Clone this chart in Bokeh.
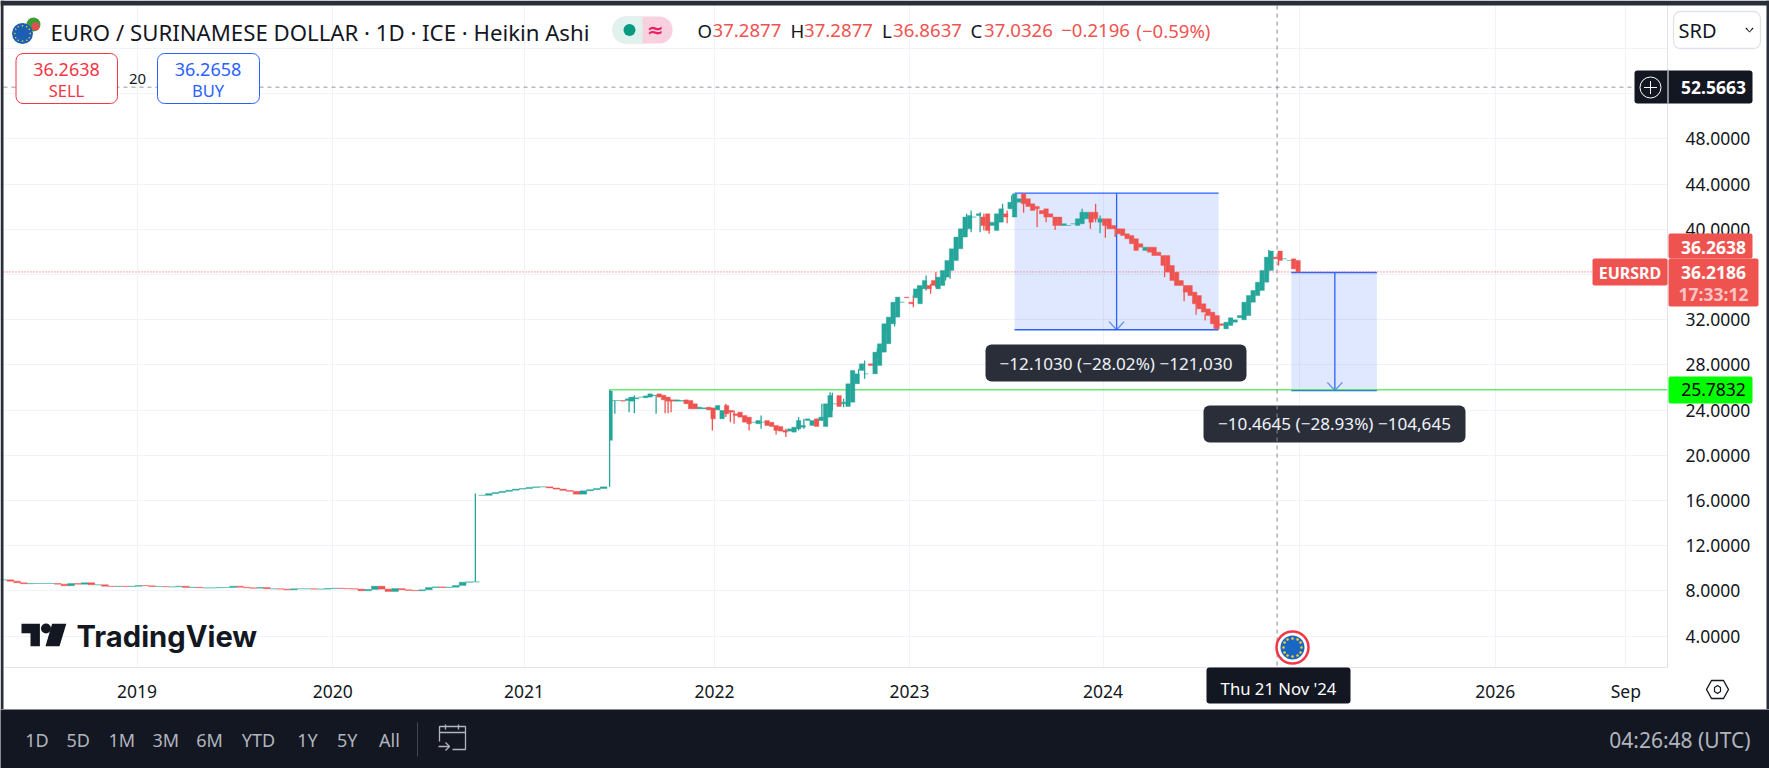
from bokeh.plotting import figure
from bokeh.layouts import column
from bokeh.models import (ColumnDataSource, Range1d, LinearAxis, FixedTicker, Label, BoxAnnotation,
                          PolyAnnotation, Grid)
from bokeh.core.properties import value
from bokeh.embed import file_html
from bokeh.resources import INLINE

# ---------------- data ----------------
price_ticks = [4, 8, 12, 16, 20, 24, 28, 32, 36, 40, 44, 48, 52, 56]
time_tick_bars = [0, 261, 516, 770, 1030, 1288, 1550, 1811, 1985]
time_tick_labels = ["2019", "2020", "2021", "2022", "2023", "2024", "", "2026", "Sep"]

flat_start, flat_step = -178, 9
flat_closes = [8.97,8.85,8.71,8.62,8.65,8.65,8.65,8.65,8.59,8.44,
               8.65,8.59,8.71,8.53,8.53,8.41,8.38,8.41,8.38,8.41,
               8.47,8.44,8.38,8.38,8.35,8.35,8.41,8.29,8.32,8.26,
               8.26,8.26,8.29,8.29,8.41,8.32,8.26,8.23,8.29,8.18,
               8.18,8.15,8.09,8.18,8.18,8.18,8.15,8.15,8.2,8.23,
               8.2,8.18,8.15,8.0,8.12,8.41,8.15,7.94,8.2,8.09,
               8.03,8.0,8.09,8.29,8.35,8.29,8.32,8.47,8.76,8.79,8.79]

step2_start, step2_step = 460, 9
step2_closes = [16.45,16.6,16.7,16.8,16.9,17.0,17.05,17.15,17.2,17.2,
                17.1,17.0,16.88,16.8,16.55,16.85,16.95,17.05,17.2]

main_start, main_step = 636, 6
main_closes = [24.84,24.84,24.78,24.99,25.14,25.08,25.14,25.25,25.43,25.31,
               25.14,24.9,24.78,24.78,24.9,24.84,24.55,24.10,24.10,24.25,
               24.19,24.01,23.22,24.4,23.96,23.66,23.81,23.51,23.37,22.92,
               22.78,22.92,23.07,22.92,22.63,22.54,22.19,22.13,22.04,22.33,
               22.48,23.07,22.63,23.22,23.07,22.54,23.37,24.55,25.28,24.55,
               24.31,24.69,26.32,27.5,27.2,28.09,27.2,27.94,
               29.12,29.86,31.63,32.22,33.54,33.99,33.54,33.93,33.4,34.72,
               35.02,35.46,34.72,35.02,35.76,36.35,37.23,38.26,39.3,40.03,
               41.07,41.21,41.07,41.36,40.33,39.89,40.62,41.36,41.8,41.07,
               42.39,43.13,
               42.69,42.25,42.01,41.66,41.8,41.36,41.07,41.07,40.33,40.33,
               40.48,40.33,40.48,40.92,41.51,41.51,40.62,40.92,40.92,40.33,
               40.03,40.03,39.59,39.44,39.15,38.71,38.12,38.41,38.41,37.97,
               37.67,37.67,36.79,36.2,35.46,35.02,35.02,34.43,34.13,33.4,
               32.95,32.66,32.36,31.63,31.18,31.48,31.77,32.16,31.98,32.36,
               33.54,34.13,34.58,35.31,36.35,37.53,38.06,37.38,37.23,37.38,
               37.23,36.49,36.2186]

wick_bars = [637,656,663,692,704,708,712,767,785,791,796,816,832,852,865,882,889,913,927,942,
             924,962,970,987,1000,1010,1035,1041,1052,1058,1065,1078,1084,1106,1112,1124,1129,1136,1154,1160,1166,
             1182,1200,1212,1224,1260,1271,1278,1284,1291,1304,1370,1396,1412,1424,1436,1509,1522]
wick_lows = [23.66,23.81,23.72,23.66,23.72,23.72,23.81,22.19,23.37,22.92,22.78,22.19,22.33,21.83,21.6,22.19,22.33,23.07,23.96,24.25,
             24.84,26.32,26.76,28.68,30.89,31.39,33.1,34.28,34.58,34.28,34.87,35.46,35.61,39.74,39.74,39.74,39.89,39.59,41.21,40.53,41.8,
             41.45,40.18,40.62,39.94,40.48,40.03,40.62,39.65,39.24,39.3,35.76,33.63,32.42,31.92,31.18,36.93,36.79]
wick_highs = [24.84,25.14,25.28,25.2,24.9,24.9,24.9,24.1,24.55,23.96,23.96,23.22,23.51,22.48,22.33,23.37,23.22,24.55,25.52,24.99,
              25.58,27.64,28.38,29.41,31.92,32.66,34.13,35.02,35.9,35.17,36.2,36.64,37.38,41.36,41.66,41.51,41.36,40.92,42.25,41.66,42.98,
              42.69,41.95,41.36,40.77,41.8,41.21,42.25,41.21,40.62,40.18,36.93,34.87,33.69,32.51,32.07,38.17,37.67]

jump_bars = [451, 630, 632]
jump_lows = [8.8, 17.2, 21.3]
jump_highs = [16.6, 25.8, 25.7]

last_price, target_price, cross_price = 36.2186, 25.7832, 52.5663
measure_bars = [[1170, 1442, 1306], [1539, 1653, 1597]]
measure_prices = [[43.2, 31.1], [36.17, 25.72]]
cross_bar = 1520
target_start_bar = 630

TEAL, RED = "#26a69a", "#ef5350"
DARK, INK = "#131722", "#131722"
EDGE = "#2a2e39"
GRID = "#f0f3fa"
BLUE = "#2962ff"
FONT = "Noto Sans"

# ---------------- geometry helpers: reference-pixel positions ----------------
W, H1, H2 = 1769, 709, 59
FX0, FX1, FY0, FY1 = 3, 1667, 5, 667
def bar_at(px): return (px - 136.6) / 0.75
def price_at(py): return 48 - (py - 138.3) / 11.3

# The frame fills the whole canvas; both axes are pinned at the pane's edges.
p = figure(width=W, height=H1, output_backend="svg", toolbar_location=None,
           x_range=Range1d(bar_at(0), bar_at(W)), y_range=Range1d(price_at(H1), price_at(0)),
           x_axis_location=None, y_axis_location=None, min_border=0,
           background_fill_color="white", border_fill_color="white", outline_line_color=None)

xaxis = LinearAxis(ticker=FixedTicker(ticks=time_tick_bars), fixed_location=price_at(FY1),
                   bounds=(bar_at(FX0), bar_at(FX1)),
                   major_label_overrides={b: l for b, l in zip(time_tick_bars, time_tick_labels)})
yaxis = LinearAxis(ticker=FixedTicker(ticks=price_ticks), fixed_location=bar_at(FX1),
                   bounds=(price_at(FY1), price_at(FY0)),
                   major_label_overrides={t: ("" if t in (36, 52, 56) else f"{t:.4f}") for t in price_ticks})
for ax in (xaxis, yaxis):
    ax.axis_line_color = "#e0e3eb"
    ax.major_tick_line_color = None
    ax.minor_tick_line_color = None
    ax.major_label_text_color = INK
    ax.major_label_text_font = FONT
xaxis.major_label_text_font_size = "17.5px"
yaxis.major_label_text_font_size = "17.5px"
xaxis.major_label_standoff = 5
yaxis.major_label_standoff = 12
p.add_layout(xaxis, "below")
p.add_layout(yaxis, "right")
p.xgrid.visible = False
p.ygrid.visible = False
p.add_layout(Grid(dimension=0, ticker=FixedTicker(ticks=time_tick_bars), grid_line_color=GRID))
p.add_layout(Grid(dimension=1, ticker=FixedTicker(ticks=price_ticks), grid_line_color=GRID))

# hide the grid outside the price pane
p.quad(left=[bar_at(FX1), bar_at(0)], right=[bar_at(W), bar_at(W)], top=[price_at(0), price_at(FY1)],
       bottom=[price_at(H1), price_at(H1)], fill_color="white", line_color=None)

# ---------------- drawings under the candles ----------------
for (b0, b1, bm), (top, bot) in zip(measure_bars, measure_prices):
    p.quad(left=b0, right=b1, top=top, bottom=bot, fill_color=BLUE, fill_alpha=0.15, line_color=None)
    p.segment([b0, b0, bm], [top, bot, top], [b1, b1, bm], [top, bot, bot], line_color=BLUE, line_width=1.3)
    p.segment([bm - 10, bm + 10], [bot + 0.72, bot + 0.72], [bm, bm], [bot, bot], line_color=BLUE, line_alpha=0.7, line_width=1.3)

p.segment(target_start_bar, target_price, bar_at(FX1), target_price, line_color="#1fe01f", line_width=1)
p.segment(bar_at(FX0), last_price, bar_at(FX1), last_price, line_color=RED, line_dash="1 2", line_width=1)
p.segment(bar_at(FX0), cross_price, bar_at(FX1), cross_price, line_color="#9598a1", line_dash="4 4", line_width=1)

# ---------------- candles: Heikin Ashi bodies span the last two closes ----------------
def candles(start, step, closes, lag):
    xs = [start + step * i for i in range(len(closes))]
    opens = [closes[max(i - lag, 0)] for i in range(len(closes))]
    return xs, opens

cx, co, cc, cw = [], [], [], []
for start, step, closes, width, lag in ((flat_start, flat_step, flat_closes, 9, 1),
                                        (step2_start, step2_step, step2_closes, 9, 1),
                                        (main_start, main_step, main_closes, 6, 2)):
    xs, opens = candles(start, step, closes, lag)
    cx += xs; co += opens; cc += closes; cw += [width] * len(xs)
ccol = [TEAL if c >= o else RED for o, c in zip(co, cc)]

def nearest_colour(b):
    i = min(range(len(cx)), key=lambda k: abs(cx[k] - b))
    return ccol[i]

p.segment(wick_bars, wick_lows, wick_bars, wick_highs,
          line_color=[nearest_colour(b) for b in wick_bars], line_width=1.3)
p.segment(jump_bars, jump_lows, jump_bars, jump_highs, line_color=TEAL, line_width=[1.3, 1.3, 3])
src = ColumnDataSource(dict(x=cx, top=[max(a, b) for a, b in zip(co, cc)],
                            bottom=[min(a, b) for a, b in zip(co, cc)], w=cw, color=ccol))
p.vbar(x="x", top="top", bottom="bottom", width="w", source=src, fill_color="color", line_color="color", line_width=0.4)

# ---------------- chrome helpers (canvas px = reference px) ----------------
def box(x0, y0, x1, y1, fill, line=None, radius=0, lw=1):
    p.add_layout(BoxAnnotation(left=x0, right=x1, top=y0, bottom=y1,
                               left_units="canvas", right_units="canvas", top_units="canvas", bottom_units="canvas",
                               fill_color=fill, fill_alpha=1, line_color=line, line_alpha=1, line_width=lw,
                               border_radius=radius, level="annotation", editable=False))

def txt(x, y, s, size=15.5, color=INK, align="center", font=FONT, style="normal"):
    p.add_layout(Label(x=x, y=y, x_units="canvas", y_units="canvas", text=s,
                       text_font=font, text_font_size=f"{size}px", text_color=color, text_align=align,
                       text_baseline="middle", text_font_style=style, level="annotation"))

def poly(xs, ys, fill=None, line=None, lw=1.3):
    p.add_layout(PolyAnnotation(xs=list(xs), ys=list(ys), xs_units="canvas", ys_units="canvas",
                                fill_color=fill, fill_alpha=1 if fill else 0, line_color=line, line_alpha=1, line_width=lw,
                                level="annotation", editable=False))

# outer edge of the window
box(0, 0, W, FY0, EDGE)
box(0, 0, FX0, H1, EDGE)
box(1766, 0, W, H1, EDGE)

# header
txt(50, 32, "EURO / SURINAMESE DOLLAR · 1D · ICE · Heikin Ashi", size=22.2, align="left")
p.scatter([bar_at(33)], [price_at(24)], size=14, fill_color="#3f9c35", line_color=None)
p.scatter([bar_at(35)], [price_at(26)], size=8, fill_color="#e05050", line_color=None)
p.scatter([bar_at(22)], [price_at(33)], size=21, fill_color="#1a5fb4", line_color=None)
box(612, 16, 672, 43, "#f8d0de", radius=13)
box(612, 16, 642, 43, "#dff2ee", radius=13)
box(632, 16, 642, 43, "#dff2ee")
p.scatter([bar_at(629)], [price_at(29.5)], size=12, fill_color="#089981", line_color=None, level="overlay")
txt(655, 29, "≈", size=20, color="#e91e63", font="DejaVu Sans", style="bold")
for x, s, c in ((697, "O", INK), (712, "37.2877", RED), (790, "H", INK), (803.6, "37.2877", RED),
                (881.5, "L", INK), (892.6, "36.8637", RED), (970, "C", INK), (983.5, "37.0326", RED),
                (1060.7, "−0.2196", RED), (1135.8, "(−0.59%)", RED)):
    txt(x, 30, s, size=18.6, color=c, align="left")

# sell / buy
box(15.5, 53, 117, 103, "white", "#f23645", 7)
txt(66, 69, "36.2638", size=18, color="#f23645")
txt(66, 90, "SELL", size=16.5, color="#f23645")
txt(137, 78, "20", size=15)
box(157, 53, 259, 103, "white", BLUE, 7)
txt(207.5, 69, "36.2658", size=18, color=BLUE)
txt(207.5, 90, "BUY", size=16.5, color=BLUE)

# selector
box(1673, 11, 1760, 48, "white", "#e0e3eb", 7, 1.3)
txt(1678, 30, "SRD", size=20, align="left")
poly([1745, 1749, 1753, 1752, 1749, 1746], [28, 32, 28, 27, 31, 27], fill=INK)

# measure labels
box(985, 344, 1246, 381, EDGE, None, 6)
txt(1115.5, 363, "−12.1030 (−28.02%) −121,030", size=17.1, color="#f0f3fa")
box(1203, 405, 1465, 442, EDGE, None, 6)
txt(1334, 423, "−10.4645 (−28.93%) −104,645", size=17.1, color="#f0f3fa")

# crosshair vertical (on top of the labels)
p.segment(cross_bar, price_at(FY0), cross_bar, price_at(FY1), line_color="#868993", line_dash="4 4", line_width=1, level="overlay")

# price tags
box(1634, 70, 1752, 103, DARK, None, 3)
poly([1667, 1668, 1668, 1667], [70, 70, 103, 103], fill="white")
txt(1713, 87, "52.5663", size=17.5, color="white", style="bold")
p.scatter([bar_at(1650)], [price_at(87)], size=21, fill_color=None, line_color="white", line_width=1, level="overlay")
p.scatter([bar_at(1650)], [price_at(87)], marker="cross", size=13, line_color="white", line_width=1, level="overlay")
box(1668, 233, 1752, 258, RED, None, 2)
txt(1713, 247, "36.2638", size=17.5, color="white", style="bold")
box(1668, 258, 1758, 306, RED, None, 2)
txt(1713, 272, "36.2186", size=17.5, color="white", style="bold")
txt(1713, 293, "17:33:12", size=17.5, color="#fbc5c5", style="bold")
box(1592, 258, 1667, 285, RED, None, 2)
txt(1629.5, 272, "EURSRD", size=16, color="white", style="bold")
box(1668, 376, 1752, 403, "#00ff00", None, 2)
txt(1713, 389, "25.7832", size=17.5, color="black")

# time tag
box(1206, 667, 1350, 703, DARK, None, 3)
txt(1278, 688, "Thu 21 Nov '24", size=16.7, color="white")
poly([1706, 1711, 1723, 1728, 1723, 1711], [689, 680, 680, 689, 698, 698], fill=None, line=INK, lw=1.4)
poly([1714, 1717, 1720, 1720, 1717, 1714], [687, 685, 687, 691, 693, 691], fill=None, line=INK, lw=1.2)

# flag on the time line
p.scatter([bar_at(1292)], [price_at(647)], size=32, fill_color="white", line_color="#f23645", line_width=2.5, level="overlay")
p.scatter([bar_at(1292)], [price_at(647)], size=24, fill_color="#1a66c4", line_color=None, level="overlay")
eu_dx = [0, 5, 8, 9, 8, 5, 0, -5, -8, -9, -8, -5]
eu_dy = [-9, -8, -5, 0, 5, 8, 9, 8, 5, 0, -5, -8]
p.scatter([bar_at(1292 + d) for d in eu_dx], [price_at(647 + d) for d in eu_dy], size=2.5,
          fill_color="#ffd21f", line_color=None, level="overlay")
p.scatter([bar_at(22 + d * 0.85) for d in eu_dx], [price_at(33 + d * 0.85) for d in eu_dy], size=1.6,
          fill_color="#ffd21f", line_color=None, level="overlay")

# TradingView logo
p.patches([[bar_at(v) for v in (21, 39.4, 39.4, 30, 30, 21)],
           [bar_at(v) for v in (51.6, 65.8, 59, 45)]],
          [[price_at(v) for v in (623.3, 623.3, 645.7, 645.7, 632.7, 632.7)],
           [price_at(v) for v in (623.3, 623.3, 645.7, 645.7)]],
          fill_color=INK, line_color=None)
p.scatter([bar_at(45.5)], [price_at(628)], size=10, fill_color=INK, line_color=None)
txt(76, 636, "TradingView", size=29.2, font="Inter", style="bold", align="left")

# ---------------- bottom bar ----------------
b = figure(width=W, height=H2, output_backend="svg", toolbar_location=None,
           x_range=Range1d(0, W), y_range=Range1d(H1 + H2, H1),
           x_axis_type=None, y_axis_type=None, min_border=0,
           background_fill_color=DARK, border_fill_color=DARK, outline_line_color=None)
b.xgrid.visible = False
b.ygrid.visible = False
ranges = ["1D", "5D", "1M", "3M", "6M", "YTD", "1Y", "5Y", "All"]
range_x = [36.4, 77.7, 121.3, 165.3, 209, 258, 307, 346.7, 389]
b.text(range_x, [739] * len(ranges), text=ranges, text_font=value(FONT), text_font_size="18px",
       text_color="#b2b5be", text_align="center", text_baseline="middle")
b.text([1750], [739], text=["04:26:48 (UTC)"], text_font=value(FONT), text_font_size="21px",
       text_color="#b2b5be", text_align="right", text_baseline="middle")
b.segment([417], [722], [417], [756], line_color="#434651", line_width=1)
b.multi_line([[439, 439, 465, 465, 452], [439, 465], [445, 445], [458, 458], [438, 449], [445, 449, 445]],
             [[741, 726, 726, 749, 749], [732, 732], [724, 729], [724, 729], [746, 746], [742, 746, 750]],
             line_color="#b2b5be", line_width=1.3)

page = column(p, b, spacing=0)
open("out.html", "w").write(file_html(page, INLINE))
